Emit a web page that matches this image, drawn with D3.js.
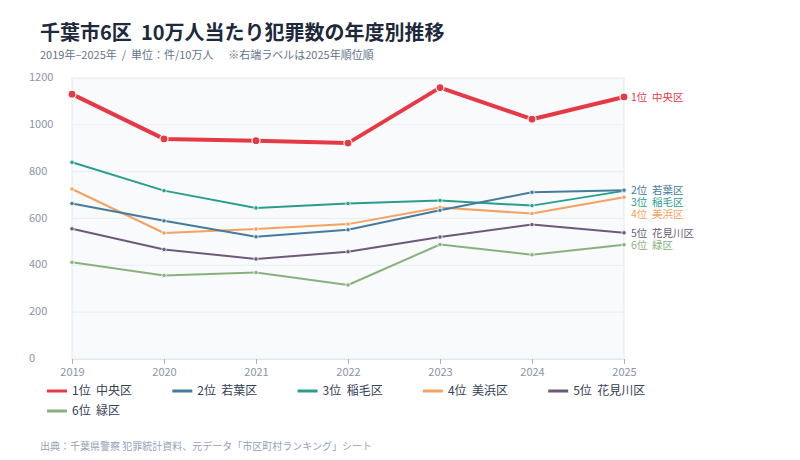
<!DOCTYPE html>
<html>
<head>
<meta charset="utf-8">
<script src="https://cdn.jsdelivr.net/npm/d3@7"></script>
<style>
  body { margin: 0; background: #fff; }
  text { font-family: "Noto Sans CJK JP", "Noto Sans", sans-serif; white-space: pre; }
</style>
</head>
<body>
<script>
// data
let years = [2019, 2020, 2021, 2022, 2023, 2024, 2025]
let wards = ["中央区", "若葉区", "稲毛区", "美浜区", "花見川区", "緑区"]
let chuo = [1131, 940, 932, 922, 1159, 1024, 1119]
let wakaba = [664, 590, 522, 552, 635, 712, 721]
let inage = [840, 719, 645, 664, 677, 655, 718]
let mihama = [726, 538, 555, 576, 647, 621, 691]
let hanamigawa = [556, 468, 427, 458, 521, 574, 539]
let midori = [413, 357, 369, 316, 489, 445, 488]
let yTicks = [0, 200, 400, 600, 800, 1000, 1200]
let colors = ["#e63946", "#457b9d", "#2a9d8f", "#f4a261", "#6d597a", "#8ab17d"]

let series = [chuo, wakaba, inage, mihama, hanamigawa, midori].map((v, i) => ({
    name: (i + 1) + "位  " + wards[i],
    values: v,
    color: colors[i],
    main: i === 0
}))

let width = 800
let height = 460
let margin = { left: 72, right: 176, top: 78, bottom: 101 }

let svg = d3.select("body").append("svg")
    .attr("width", width)
    .attr("height", height)

// title
svg.append("text")
    .attr("x", 40).attr("y", 40)
    .attr("font-size", 20).attr("font-weight", 700)
    .attr("fill", "#1e293b")
    .text("千葉市6区  10万人当たり犯罪数の年度別推移")
svg.append("text")
    .attr("x", 40).attr("y", 59)
    .attr("font-size", 11).attr("fill", "#64748b")
    .text("2019年–2025年  /  単位：件/10万人      ※右端ラベルは2025年順位順")

let x = d3.scalePoint()
    .domain(years)
    .range([margin.left, width - margin.right])
let y = d3.scaleLinear()
    .domain([0, 1200])
    .range([height - margin.bottom, margin.top])

// plot background
svg.append("rect")
    .attr("x", margin.left).attr("y", margin.top)
    .attr("width", width - margin.left - margin.right)
    .attr("height", height - margin.top - margin.bottom)
    .attr("fill", "#f8fafc")
    .attr("stroke", "#e2e8f0")

// grid
svg.append("g")
    .selectAll("line")
    .data(yTicks.slice(1, -1)).enter()
    .append("line")
    .attr("x1", margin.left).attr("x2", width - margin.right)
    .attr("y1", d => y(d)).attr("y2", d => y(d))
    .attr("stroke", "#e9eef4")

// y labels (left aligned)
svg.append("g")
    .selectAll("text")
    .data(yTicks).enter()
    .append("text")
    .attr("x", 29).attr("y", d => y(d) + 3)
    .attr("font-size", 11).attr("fill", "#8a94a6")
    .text(d => d)

// x axis
let xAxis = svg.append("g")
    .attr("transform", "translate(0," + (height - margin.bottom) + ")")
    .call(d3.axisBottom(x).tickSize(5).tickPadding(4).tickFormat(d => d))
xAxis.select(".domain").attr("stroke", "#e2e8f0")
xAxis.selectAll(".tick line").attr("stroke", "#aab3c0")
xAxis.selectAll(".tick text")
    .attr("font-size", 11).attr("fill", "#8a94a6")
    .attr("font-family", "Noto Sans CJK JP")

// lines
let line = d3.line()
    .x((d, i) => x(years[i]))
    .y(d => y(d))

let groups = svg.selectAll(".series")
    .data(series.slice().reverse()).enter()
    .append("g")
    .attr("class", "series")

groups.append("path")
    .attr("d", d => line(d.values))
    .attr("fill", "none")
    .attr("stroke", d => d.color)
    .attr("stroke-width", d => d.main ? 4 : 2)
    .attr("stroke-linejoin", "round")

groups.selectAll("circle")
    .data(d => d.values.map((v, i) => ({ v: v, i: i, s: d }))).enter()
    .append("circle")
    .attr("cx", d => x(years[d.i]))
    .attr("cy", d => y(d.v))
    .attr("r", d => d.s.main ? 4 : 2.2)
    .attr("fill", d => d.s.color)
    .attr("stroke", "#fff")
    .attr("stroke-width", d => d.s.main ? 1.2 : 0.8)

// right end labels with simple collision avoidance
let labels = series.map(s => ({ s: s, y: y(s.values[s.values.length - 1]) }))
let sorted = labels.slice().sort((a, b) => a.y - b.y)
for (let i = 1; i < sorted.length; i++) {
    if (sorted[i].y - sorted[i - 1].y < 12) sorted[i].y = sorted[i - 1].y + 12
}
svg.append("g")
    .selectAll("text")
    .data(labels).enter()
    .append("text")
    .attr("x", width - margin.right + 7)
    .attr("y", d => d.y + 4)
    .attr("font-size", 10.5)
    .attr("fill", d => d.s.color)
    .text(d => d.s.name)

// legend
let legend = svg.append("g")
    .selectAll("g")
    .data(series).enter()
    .append("g")
    .attr("transform", (d, i) => "translate(" + (47 + (i % 5) * 125.3) + "," + (391 + Math.floor(i / 5) * 20) + ")")
legend.append("line")
    .attr("x1", 0).attr("x2", 20)
    .attr("stroke", d => d.color)
    .attr("stroke-width", 3)
legend.append("text")
    .attr("x", 25).attr("y", 4)
    .attr("font-size", 12).attr("fill", "#334155")
    .text(d => d.name)

// source
svg.append("text")
    .attr("x", 40).attr("y", 450)
    .attr("font-size", 10).attr("fill", "#94a3b8")
    .text("出典：千葉県警察 犯罪統計資料、元データ「市区町村ランキング」シート")
</script>
</body>
</html>
